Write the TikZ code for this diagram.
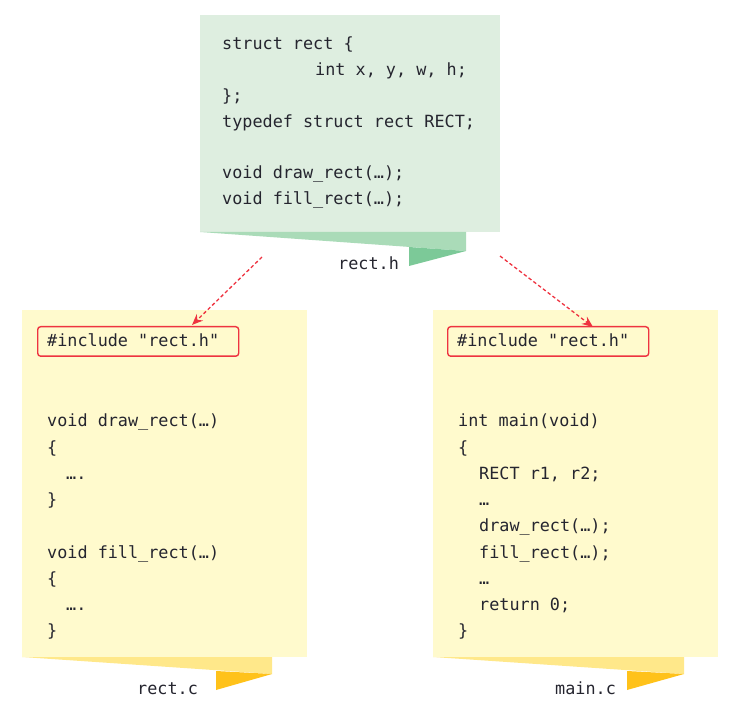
\documentclass[tikz,border=0pt]{standalone}
\usepackage{fontspec}
\setmonofont{DejaVu Sans Mono}
\usetikzlibrary{arrows.meta,calc}
\definecolor{gfill}{HTML}{DEEEE0}
\definecolor{gfold}{HTML}{AADBB8}
\definecolor{gdark}{HTML}{7CC998}
\definecolor{yfill}{HTML}{FFFACD}
\definecolor{yfold}{HTML}{FFE88A}
\definecolor{ydark}{HTML}{FFC21A}
\definecolor{redl}{HTML}{EE3340}
\definecolor{txt}{HTML}{25252F}
\begin{document}
\begin{tikzpicture}[x=1pt,y=-1pt,
  code/.style={font=\ttfamily\fontsize{16.8}{20}\selectfont, text=txt, anchor=base west, inner sep=0pt},
  sheet/.style={anchor=north west, inner sep=0pt, draw=none},
  incbox/.style={anchor=north west, inner sep=0pt, draw=redl, line width=1.4pt, rounded corners=3pt, fill=yfill, minimum width=201pt, minimum height=29.5pt},
  redarrow/.style={draw=redl, line width=1.3pt, dash pattern=on 3.5pt off 2.5pt, -{Stealth[length=11pt,width=9pt]}}
]
\useasboundingbox (0,0) rectangle (732,722);
% header sheet
\node[sheet, fill=gfill, minimum width=300pt, minimum height=217pt] (hbox) at (200,15) {};
\fill[gfold] (200,232) -- (466,232) -- (466,251) -- cycle;
\fill[gdark] (409,247) -- (466,251) -- (409,266) -- cycle;
% rect.c sheet
\node[sheet, fill=yfill, minimum width=285pt, minimum height=347pt] (cbox) at (22,310) {};
\fill[yfold] (22,657) -- (272,657) -- (272,674) -- cycle;
\fill[ydark] (216,671) -- (272,674) -- (216,690) -- cycle;
% main.c sheet
\node[sheet, fill=yfill, minimum width=285pt, minimum height=347pt] (mbox) at (433,310) {};
\fill[yfold] (433,657) -- (684,657) -- (684,674) -- cycle;
\fill[ydark] (627,671) -- (684,674) -- (627,690) -- cycle;
% include boxes
\node[incbox] (incL) at (37,326) {};
\node[incbox] (incR) at (447,326) {};
% header text
\node[code] (h1) at (222,50) {struct rect \{};
\node[code] (h2) at (315,75.8) {int x, y, w, h;};
\node[code] (h3) at (222,101.6) {\};};
\node[code] (h4) at (222,127.4) {typedef struct rect RECT;};
\node[code] (h5) at (222,179) {void draw\_rect(…);};
\node[code] (h6) at (222,205) {void fill\_rect(…);};
\node[code] (lh) at (338,270) {rect.h};
% rect.c text
\node[code] (i1) at (47,347) {\#include "rect.h"};
\node[code] (c1) at (47,427) {void draw\_rect(…)};
\node[code] (c2) at (47,453.2) {\{};
\node[code] (c3) at (66,479.4) {….};
\node[code] (c4) at (47,505.6) {\}};
\node[code] (c5) at (47,558) {void fill\_rect(…)};
\node[code] (c6) at (47,584.2) {\{};
\node[code] (c7) at (66,610.4) {….};
\node[code] (c8) at (47,636.6) {\}};
\node[code] (lc) at (137,694) {rect.c};
% main.c text
\node[code] (i2) at (457,347) {\#include "rect.h"};
\node[code] (m1) at (458,427) {int main(void)};
\node[code] (m2) at (458,453.2) {\{};
\node[code] (m3) at (479,479.4) {RECT r1, r2;};
\node[code] (m4) at (479,505.6) {…};
\node[code] (m5) at (479,531.8) {draw\_rect(…);};
\node[code] (m6) at (479,558) {fill\_rect(…);};
\node[code] (m7) at (479,584.2) {…};
\node[code] (m8) at (479,610.4) {return 0;};
\node[code] (m9) at (458,636.6) {\}};
\node[code] (lm) at (555,694) {main.c};
% arrows
\coordinate (aL) at (262,257);
\coordinate (aR) at (500,256);
\draw[redarrow] (aL) -- ($(incL.north west)+(155,-1)$);
\draw[redarrow] (aR) -- ($(incR.north west)+(146,1)$);
\end{tikzpicture}
\end{document}
